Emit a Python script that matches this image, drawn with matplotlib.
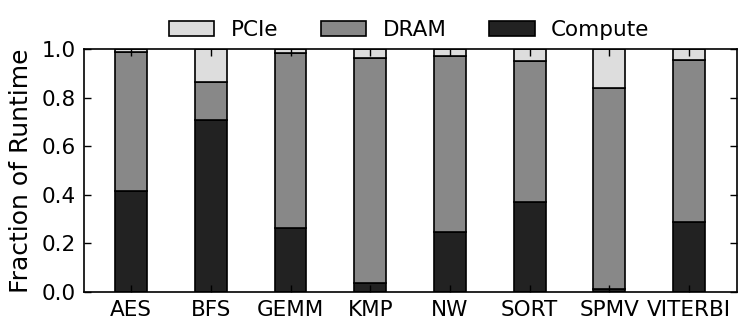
import numpy as np
import matplotlib.pyplot as plt

benchmarks = ['AES', 'BFS', 'GEMM', 'KMP', 'NW', 'SORT', 'SPMV', 'VITERBI']
compute = [0.417, 0.708, 0.262, 0.036, 0.248, 0.369, 0.012, 0.287]
dram = [0.571, 0.157, 0.720, 0.928, 0.724, 0.583, 0.826, 0.669]
pcie = [0.012, 0.135, 0.018, 0.036, 0.028, 0.048, 0.162, 0.044]

fig = plt.figure(figsize=(7.48, 3.31), dpi=100)
ax = fig.add_axes([84 / 748, 1 - 292 / 331, 653 / 748, 243 / 331])

x = np.arange(len(benchmarks))
w = 0.4
kw = dict(width=w, edgecolor='black', linewidth=1.2)
b1 = ax.bar(x, compute, color='#222222', label='Compute', **kw)
b2 = ax.bar(x, dram, bottom=compute, color='#888888', label='DRAM', **kw)
bot = np.array(compute) + np.array(dram)
b3 = ax.bar(x, pcie, bottom=bot, color='#dddddd', label='PCIe', **kw)

ax.set_xlim(-0.59, 7.6)
ax.set_ylim(0, 1.0)
ax.set_xticks(x)
ax.set_xticklabels(benchmarks, fontsize=15.5)
ax.set_yticks(np.arange(0, 1.01, 0.2))
ax.set_yticklabels(['%.1f' % v for v in np.arange(0, 1.01, 0.2)], fontsize=15.5)
ax.tick_params(direction='in', top=True, right=True, length=5, width=1)
ax.tick_params(axis='x', pad=6)
ax.tick_params(axis='y', pad=6)
ax.set_ylabel('Fraction of Runtime', fontsize=18, labelpad=6)
for s in ax.spines.values():
    s.set_linewidth(1.2)

fig.legend(handles=[b3, b2, b1], labels=['PCIe', 'DRAM', 'Compute'],
           loc='center', bbox_to_anchor=(0.547, 1 - 30 / 331), ncol=3,
           frameon=False, fontsize=15.5, handlelength=2.1, handleheight=0.65,
           columnspacing=2.0, handletextpad=0.75)

fig.savefig('out.png', dpi=100)
